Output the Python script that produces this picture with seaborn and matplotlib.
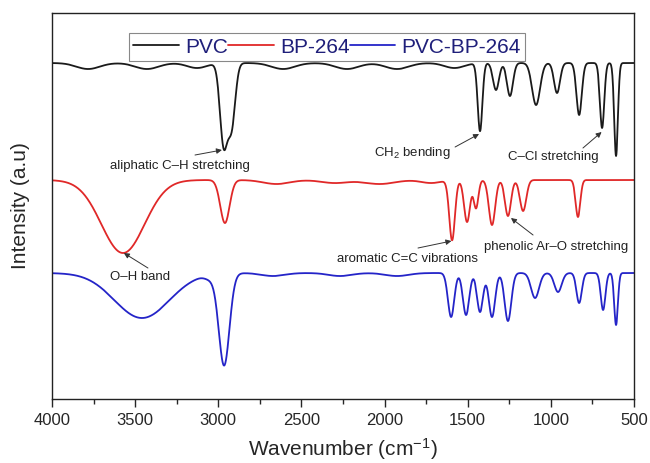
import numpy as np
import pandas as pd
import matplotlib
matplotlib.use("Agg")
import matplotlib.pyplot as plt
import seaborn as sns
from matplotlib.ticker import MultipleLocator

# band tables: centre (cm-1), depth (a.u.), width sigma (cm-1)
samples = ["PVC", "BP-264", "PVC-BP-264"]
colors = ["#1a1a1a", "#e02828", "#2424c8"]
baselines = [336, 219, 126]

pvc_centre = [3783, 3429, 3128, 2610, 2226, 1925, 1580, 2968, 2920, 1426, 1330, 1246, 1089, 963, 830, 692, 608]
pvc_depth = [6, 6, 5, 6, 6, 6, 5, 80, 62, 68, 27, 33, 42, 30, 52, 65, 93]
pvc_width = [70, 70, 60, 70, 70, 70, 60, 22, 22, 14, 18, 18, 24, 18, 16, 13, 11]

bp_centre = [2650, 2300, 2030, 1720, 3573, 2960, 1594, 1504, 1450, 1354, 1258, 1167, 837]
bp_depth = [4, 3, 4, 3, 73, 43, 60, 42, 28, 45, 36, 31, 37]
bp_width = [80, 80, 90, 60, 130, 28, 17, 18, 14, 19, 18, 19, 14]

mix_centre = [2670, 2268, 1925, 3050, 3459, 2965, 1600, 1510, 1426, 1354, 1258, 1095, 957, 830, 686, 608]
mix_depth = [3, 3, 3, 4, 45, 92, 44, 42, 39, 44, 48, 25, 19, 30, 37, 52]
mix_width = [70, 70, 70, 30, 165, 32, 19, 19, 18, 19, 20, 24, 22, 16, 14, 11]

wn = np.linspace(4000, 500, 1751)


def spectrum(base, centres, depths, widths):
    y = np.full(wn.shape, float(base))
    for c, d, w in zip(centres, depths, widths):
        y -= d * np.exp(-0.5 * ((wn - c) / w) ** 2)
    return y


tables = [(pvc_centre, pvc_depth, pvc_width),
          (bp_centre, bp_depth, bp_width),
          (mix_centre, mix_depth, mix_width)]
frames = []
for name, base, (c, d, w) in zip(samples, baselines, tables):
    frames.append(pd.DataFrame({"wn": wn, "signal": spectrum(base, c, d, w), "sample": name}))
df = pd.concat(frames, ignore_index=True)

sns.set_style("ticks")
plt.rcParams["font.family"] = ["Liberation Sans", "DejaVu Sans"]
plt.rcParams["mathtext.default"] = "regular"

fig = plt.figure(figsize=(6.5, 4.63), dpi=100)
ax = fig.add_axes([0.08, 0.1382, 0.8954, 0.8337])
sns.lineplot(data=df, x="wn", y="signal", hue="sample", hue_order=samples,
             palette=colors, estimator=None, linewidth=1.3, legend=False, ax=ax)

ax.set_xlim(4000, 500)
ax.set_ylim(0, 386)
ax.xaxis.set_major_locator(MultipleLocator(500))
ax.xaxis.set_minor_locator(MultipleLocator(250))
ax.set_yticks([])
ax.tick_params(axis="x", which="major", direction="out", length=6, width=1, labelsize=12, pad=4)
ax.tick_params(axis="x", which="minor", direction="out", length=3.5, width=1)
for s in ax.spines.values():
    s.set_visible(True)
    s.set_linewidth(1.0)
    s.set_color("#222222")

ax.set_xlabel("Wavenumber (cm$^{-1}$)", fontsize=15, labelpad=6)
ax.set_ylabel("Intensity (a.u)", fontsize=15, labelpad=16)

leg = ax.legend(ax.lines, samples, loc="upper center", bbox_to_anchor=(0.4725, 0.974),
                ncol=3, fontsize=15, handlelength=2.2, handletextpad=0.3,
                columnspacing=0.0, borderpad=0.2, fancybox=False, framealpha=1,
                edgecolor="#888888")
leg.get_frame().set_linewidth(0.8)
for t in leg.get_texts():
    t.set_color("#1f1f7a")

# label text, text centre, arrow tail, arrow head
notes = [
    ("aliphatic C\u2013H stretching", (3230, 233), (3140, 244), (2978, 249)),
    ("CH$_2$ bending", (1835, 246), (1576, 252), (1432, 265)),
    ("C\u2013Cl stretching", (987, 242), (807, 251), (695, 267)),
    ("O\u2013H band", (3471, 122), (3423, 131), (3568, 146)),
    ("aromatic C=C vibrations", (1865, 140), (1799, 151), (1598, 158)),
    ("phenolic Ar\u2013O stretching", (969, 152), (1107, 164), (1240, 181)),
]
for text, xyt, tail, head in notes:
    ax.text(xyt[0], xyt[1], text, fontsize=9.5, color="#222222", ha="center", va="center")
    ax.annotate("", xy=head, xytext=tail,
                arrowprops=dict(arrowstyle="-|>", color="#333333", lw=0.7,
                                mutation_scale=8, shrinkA=0, shrinkB=0))

fig.savefig("out.png", dpi=100)
